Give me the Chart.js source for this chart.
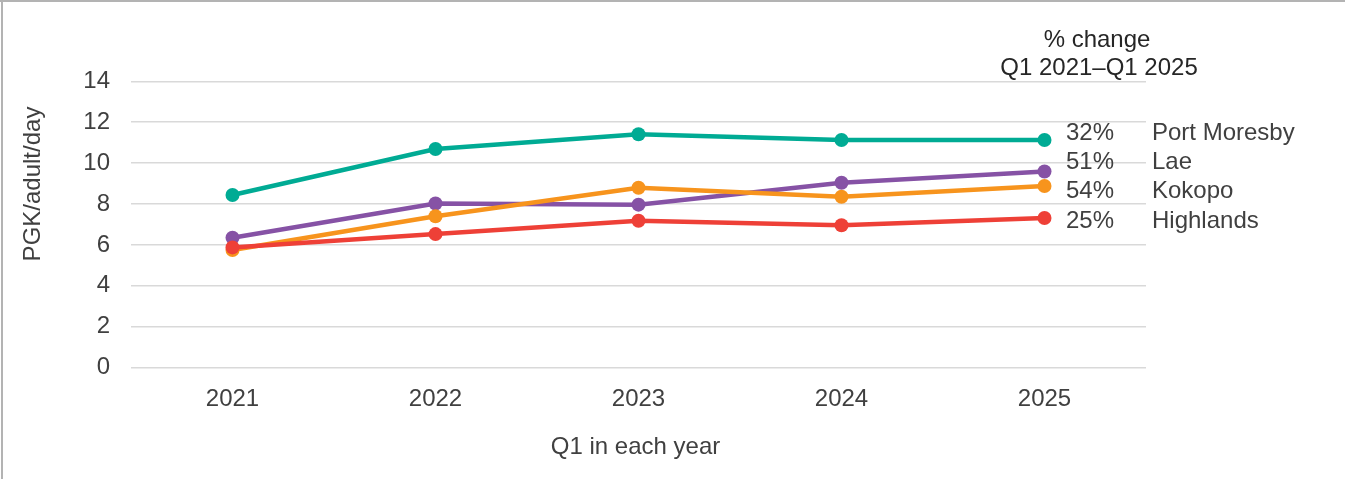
<!DOCTYPE html>
<html>
<head>
<meta charset="utf-8">
<script src="https://cdn.jsdelivr.net/npm/chart.js@4/dist/chart.umd.min.js"></script>
<style>
    html, body { margin: 0; padding: 0; background: #fff; }
    #wrap { width: 1345px; height: 479px; position: relative; }
</style>
</head>
<body>
<div id="wrap"><canvas id="chart" width="1345" height="479"></canvas></div>
<script>
// Q1 prices, PGK/adult/day
const years = ['2021', '2022', '2023', '2024', '2025'];
const portMoresby = [8.44, 10.69, 11.41, 11.13, 11.13];
const lae = [6.35, 8.03, 7.97, 9.04, 9.59];
const kokopo = [5.75, 7.40, 8.80, 8.36, 8.88];
const highlands = [5.88, 6.53, 7.18, 6.96, 7.32];

const regionNames = ['Port Moresby', 'Lae', 'Kokopo', 'Highlands'];
const pctChange = ['32%', '51%', '54%', '25%'];
const yTicks = [0, 2, 4, 6, 8, 10, 12, 14];

const colors = ['#00ab94', '#8652a5', '#f7941d', '#ee4037'];
const textColor = '#404040';
const font = '"Liberation Sans", Arial, sans-serif';

// label rows on the right, y positions of each row
const labelRows = [133, 162, 191, 221];

function series(label, data, color, order) {
    return {
        label: label,
        data: data,
        borderColor: color,
        backgroundColor: color,
        borderWidth: 4.5,
        pointRadius: 7,
        pointHoverRadius: 7,
        pointBorderWidth: 0,
        tension: 0,
        order: order
    };
}

const extraText = {
    id: 'extraText',
    afterDraw(chart) {
        const ctx = chart.ctx;
        const area = chart.chartArea;
        ctx.save();

        // frame
        ctx.fillStyle = '#b3b3b3';
        ctx.fillRect(0, 0, chart.width, 2);
        ctx.fillRect(1, 0, 2, chart.height);

        ctx.font = '24px ' + font;
        ctx.textBaseline = 'middle';

        // header
        ctx.fillStyle = '#262626';
        ctx.textAlign = 'center';
        ctx.fillText('% change', 1097, 40);
        ctx.fillText('Q1 2021\u2013Q1 2025', 1099, 68);

        // right labels
        ctx.fillStyle = textColor;
        ctx.textAlign = 'left';
        regionNames.forEach((name, i) => {
            ctx.fillText(pctChange[i], 1066, labelRows[i]);
            ctx.fillText(name, 1152, labelRows[i]);
        });

        // y title
        ctx.save();
        ctx.translate(33, 184);
        ctx.rotate(-Math.PI / 2);
        ctx.textAlign = 'center';
        ctx.fillText('PGK/adult/day', 0, 0);
        ctx.restore();

        // x title
        ctx.textAlign = 'center';
        ctx.fillText('Q1 in each year', (area.left + area.right) / 2 - 3, 447);

        ctx.restore();
    }
};

new Chart(document.getElementById('chart'), {
    type: 'line',
    data: {
        labels: years,
        datasets: [
            series(regionNames[0], portMoresby, colors[0], 3),
            series(regionNames[1], lae, colors[1], 2),
            series(regionNames[2], kokopo, colors[2], 1),
            series(regionNames[3], highlands, colors[3], 0)
        ]
    },
    options: {
        responsive: false,
        animation: false,
        layout: { padding: { left: 0, right: 199, top: 81.3, bottom: 0 } },
        plugins: {
            legend: { display: false },
            tooltip: { enabled: false }
        },
        scales: {
            x: {
                offset: true,
                grid: { display: false },
                border: { display: false },
                ticks: {
                    color: textColor,
                    font: { family: font, size: 24 },
                    padding: 9,
                    maxRotation: 0
                },
                afterFit(scale) { scale.height = 111.3; }
            },
            y: {
                min: 0,
                max: 14,
                afterBuildTicks(scale) {
                    scale.ticks = yTicks.map(v => ({ value: v }));
                },
                grid: { color: '#d9d9d9', lineWidth: 1.6, drawTicks: false },
                border: { display: false },
                ticks: {
                    color: textColor,
                    font: { family: font, size: 24 },
                    padding: 21
                },
                afterFit(scale) { scale.width = 131; }
            }
        }
    },
    plugins: [extraText]
});
</script>
</body>
</html>
